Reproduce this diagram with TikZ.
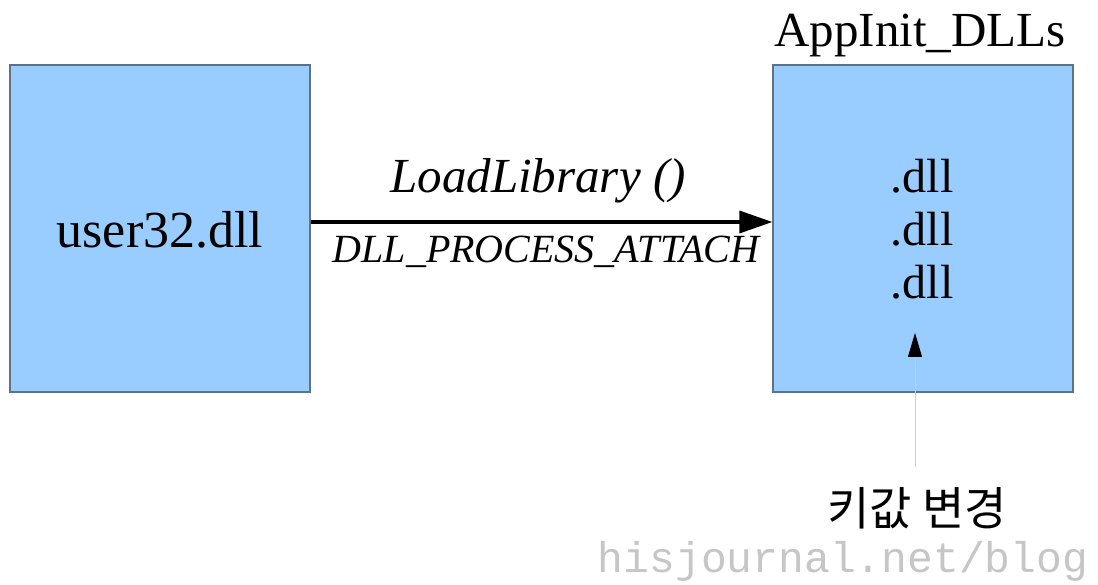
\documentclass[tikz,border=0pt]{standalone}
\usepackage{fontspec}
\setmainfont{Liberation Serif}
\newfontfamily\krfont{Noto Sans CJK KR}
\newfontfamily\wmfont{Liberation Mono}
\usetikzlibrary{arrows.meta}
\definecolor{boxfill}{HTML}{99CCFF}
\definecolor{boxline}{HTML}{5F7186}
\begin{document}
\begin{tikzpicture}[x=1pt,y=-1pt,
  dllbox/.style={draw=boxline,line width=1.2pt,fill=boxfill,minimum width=300pt,minimum height=327pt,inner sep=0pt},
  bigtxt/.style={font=\fontsize{48}{52}\selectfont,inner sep=0pt,anchor=base},
  lbl/.style={font=\fontsize{49}{52}\selectfont\itshape,inner sep=0pt,anchor=base},
  lblsmall/.style={font=\fontsize{40}{44}\selectfont\itshape,inner sep=0pt,anchor=base}]
\useasboundingbox (0,0) rectangle (1098,585);
\fill[white] (0,0) rectangle (1098,585);
\node[dllbox] (user) at (160,228.5) {};
\node[dllbox] (app) at (923,228.5) {};
\node[bigtxt,font=\fontsize{52}{56}\selectfont] (usertxt) at (160,248) {user32.dll};
\node[bigtxt,font=\fontsize{49}{52}\selectfont] (apptitle) at (920,47) {AppInit\_DLLs};
\node[bigtxt] (d1) at (922,193) {.dll};
\node[bigtxt] (d2) at (922,246) {.dll};
\node[bigtxt] (d3) at (922,299) {.dll};
\node[lbl] (ll) at (538,193) {LoadLibrary ()};
\node[lblsmall] (att) at (546,263) {DLL\_PROCESS\_ATTACH};
\coordinate (a1) at (user.east |- 0,222);
\coordinate (a2) at (app.west |- 0,222);
\draw[line width=3.5pt,-{Triangle[length=33pt,width=22pt]}] (a1) -- (a2);
\node[font=\krfont\fontsize{46}{48}\selectfont,inner sep=0pt,anchor=base] (kr) at (917,525) {키값 변경};
\coordinate (s1) at (915,467);
\coordinate (s2) at (915,333);
\draw[gray!40,line width=0.8pt,-{Triangle[length=24pt,width=14pt,color=black]}] (s1) -- (s2);
\node[font=\wmfont\fontsize{43}{46}\selectfont,text=gray!45,inner sep=0pt,anchor=base] (wm) at (843,572) {hisjournal.net/blog};
\end{tikzpicture}
\end{document}
